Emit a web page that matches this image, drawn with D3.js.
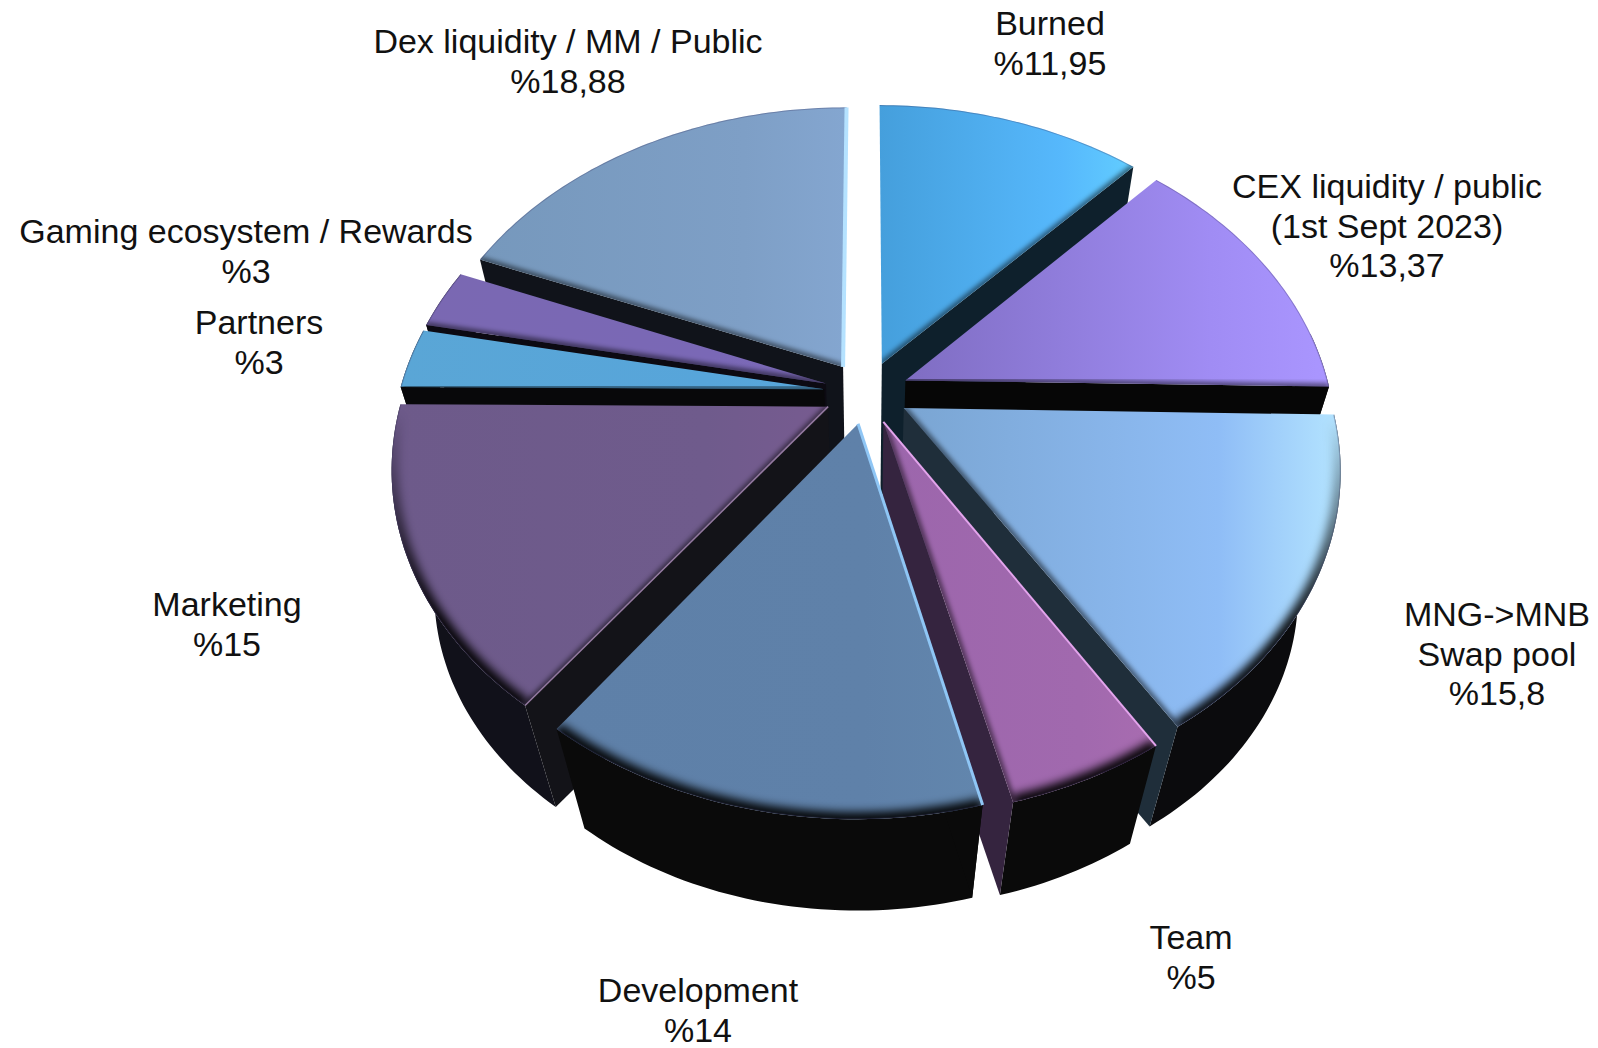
<!DOCTYPE html>
<html>
<head>
<meta charset="utf-8">
<script src="https://d3js.org/d3.v7.min.js"></script>
<style>
  html, body { margin: 0; padding: 0; background: #fff; }
  svg { display: block; }
  text { font-family: "Liberation Sans", Arial, sans-serif; font-size: 34px; fill: #111; text-anchor: middle; }
</style>
</head>
<body>
<div id="graph"></div>
<script>
// data, clockwise from 12 o'clock
var labels = [
  ["Burned"],
  ["CEX liquidity / public", "(1st Sept 2023)"],
  ["MNG->MNB", "Swap pool"],
  ["Team"],
  ["Development"],
  ["Marketing"],
  ["Partners"],
  ["Gaming ecosystem / Rewards"],
  ["Dex liquidity / MM / Public"]
];
var valueText = ["11,95", "13,37", "15,8", "5", "14", "15", "3", "3", "18,88"];
var values = [11.95, 13.37, 15.8, 5, 14, 15, 3, 3, 18.88];

// styles: one entry per slice
var faceStops = [
  ["#459fdc", "#56b8fc", "#62cdff"],
  ["#7f6dc2", "#a08cf4", "#aa96ff"],
  ["#7aa5d2", "#8fbdf6", "#b4e4ff"],
  ["#9c66ac", "#a169ae", "#a86cb0"],
  ["#5e80a8", "#5f81a9", "#6286ad"],
  ["#6d5a8a", "#6f5b8c", "#775b90"],
  ["#5aa6d6", "#57a5da", "#58a8dc"],
  ["#7a68b2", "#7a68b6", "#7c6ab8"],
  ["#7698bc", "#7e9fc6", "#84a6d0"]
];
var wallColor = ["#0e202c", "#060606", "#1f2e3a", "#35243f", "#0a0a0a", "#131318", "#08080a", "#0c0a12", "#10131a"];
var rimColor = ["#0a0a0a", "#0a0a0a", "#0b0b0d", "#0a0a0a", "#0a0a0a", "#11111a", "#0a0a0a", "#0a0a0a", "#0a0a0a"];
var lightEdge = [null, null, null, {side: "start", color: "#e3a4ec", w: 2}, {side: "start", color: "#8fc6f5", w: 3},
  {side: "start", color: "#93799f", w: 1.5}, null, null, {side: "end", color: "#b5e2ff", w: 4}];

// label layout
var labelX = [1050, 1387, 1497, 1191, 698, 227, 259, 246, 568];
var labelY = [35, 198, 626, 949, 1002, 616, 334, 243, 53];
var lineStep = 39.6;

var svgWidth = 1598, svgHeight = 1048;

// view of the pie: unit disc to screen with a vanishing point below
var cx = 866.5, cy = 392.5, rxScale = 425, ryScale = 313.5, persp = 0.176;
var explode = 0.1, depth = 0.91, vanishY = 1834;

function project(u, v, z) {
  var w = 1 - persp * v;
  var x = cx + rxScale * u / w;
  var y = cy + ryScale * v / w;
  if (z) {
    x = cx + (x - cx) * depth;
    y = vanishY + (y - vanishY) * depth;
  }
  return [x, y];
}

var pie = d3.pie().sort(null).startAngle(0).endAngle(2 * Math.PI);
var arcs = pie(values);
var line = d3.line();

var svg = d3.select("#graph").append("svg")
  .attr("width", svgWidth)
  .attr("height", svgHeight);

var defs = svg.append("defs");
defs.append("filter").attr("id", "soft")
  .attr("x", "-20%").attr("y", "-20%").attr("width", "140%").attr("height", "140%")
  .append("feGaussianBlur").attr("stdDeviation", 5);
defs.append("filter").attr("id", "softer")
  .attr("x", "-20%").attr("y", "-20%").attr("width", "140%").attr("height", "140%")
  .append("feGaussianBlur").attr("stdDeviation", 2.5);

var slices = arcs.map(function(d, i) {
  var mid = (d.startAngle + d.endAngle) / 2;
  var ox = Math.sin(mid) * explode, oy = -Math.cos(mid) * explode;
  var n = Math.max(6, Math.ceil((d.endAngle - d.startAngle) / 0.02));
  var angles = d3.range(n + 1).map(function(k) {
    return d.startAngle + (d.endAngle - d.startAngle) * k / n;
  });
  return {
    i: i,
    mid: mid,
    angles: angles,
    apex: function(z) { return project(ox, oy, z); },
    rim: function(a, z) { return project(Math.sin(a) + ox, -Math.cos(a) + oy, z); },
    order: oy
  };
});

// back slices first so the front ones cover them
slices.sort(function(a, b) { return a.order - b.order; });

slices.forEach(function(s) {
  var i = s.i;
  var g = svg.append("g").attr("class", "slice");
  var rimTop = s.angles.map(function(a) { return s.rim(a, 0); });
  var rimBottom = s.angles.map(function(a) { return s.rim(a, 1); });
  var first = 0, last = rimTop.length - 1;

  // outer wall, only the part of the rim that faces us
  var front = s.angles.filter(function(a) { return a > 1.4 && a < 5.1; });
  if (front.length > 1) {
    var wallTop = front.map(function(a) { return s.rim(a, 0); });
    var wallBottom = front.map(function(a) { return s.rim(a, 1); });
    g.append("path")
      .attr("d", line(wallTop.concat(wallBottom.reverse())) + "Z")
      .attr("fill", rimColor[i]);
  }

  // radial wall on the side that faces us
  var showSide = s.mid < Math.PI ? last : first;
  g.append("path")
    .attr("d", line([s.apex(0), rimTop[showSide], rimBottom[showSide], s.apex(1)]) + "Z")
    .attr("fill", wallColor[i]);

  // top face
  var faceD = line([s.apex(0)].concat(rimTop)) + "Z";
  var grad = defs.append("linearGradient").attr("id", "face" + i);
  faceStops[i].forEach(function(c, k) {
    grad.append("stop").attr("offset", [0, 0.72, 1][k]).attr("stop-color", c);
  });
  defs.append("clipPath").attr("id", "clip" + i).append("path").attr("d", faceD);
  g.append("path").attr("d", faceD).attr("fill", "url(#face" + i + ")");

  var shade = g.append("g").attr("clip-path", "url(#clip" + i + ")");

  // soft dark band along the rim, strongest at the front
  var band = shade.append("g").attr("filter", "url(#soft)");
  d3.pairs(rimTop).forEach(function(p, k) {
    var a = s.angles[k];
    var op = Math.max(0, Math.min(1, (-Math.cos(a) - 0.02) / 0.6));
    band.append("path")
      .attr("d", line(p))
      .attr("stroke", "#000")
      .attr("stroke-width", 14)
      .attr("stroke-opacity", op)
      .attr("fill", "none");
  });

  // thin line on the back part of the rim
  shade.append("path")
    .attr("d", line(rimTop))
    .attr("stroke", "#3a3560")
    .attr("stroke-opacity", 0.3)
    .attr("stroke-width", 2)
    .attr("fill", "none");

  // dark soft edge where a radial wall shows
  if (i != 4) {
    shade.append("path")
      .attr("d", line([s.apex(0), rimTop[showSide]]))
      .attr("stroke", "#000")
      .attr("stroke-opacity", 0.55)
      .attr("stroke-width", 6)
      .attr("filter", "url(#softer)")
      .attr("fill", "none");
  }

  // light bevel
  if (lightEdge[i]) {
    var e = lightEdge[i];
    g.append("path")
      .attr("d", line([s.apex(0), rimTop[e.side == "start" ? first : last]]))
      .attr("stroke", e.color)
      .attr("stroke-width", e.w)
      .attr("fill", "none");
  }
});

// labels
labels.forEach(function(lines, i) {
  var t = svg.append("text").attr("x", labelX[i]).attr("y", labelY[i]);
  lines.concat(["%" + valueText[i]]).forEach(function(str, k) {
    t.append("tspan")
      .attr("x", labelX[i])
      .attr("y", labelY[i] + k * lineStep)
      .text(str);
  });
});
</script>
</body>
</html>
